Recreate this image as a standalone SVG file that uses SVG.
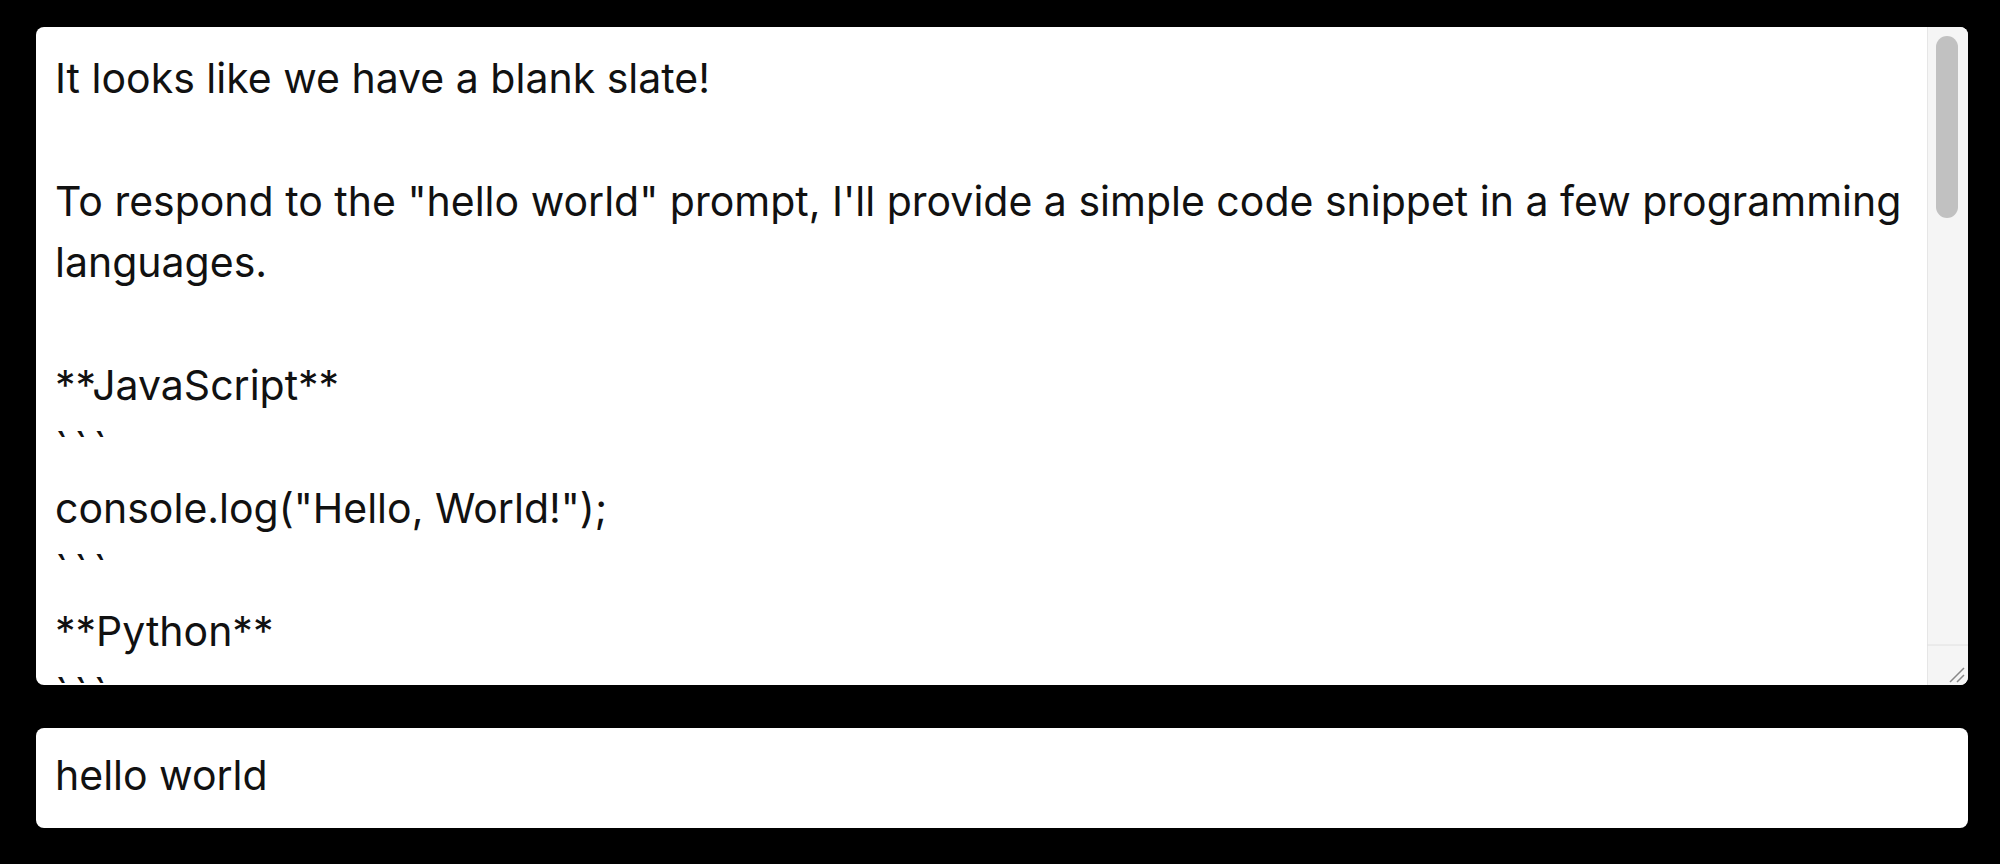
<svg xmlns="http://www.w3.org/2000/svg" width="2000" height="864" viewBox="0 0 2000 864">
<style>
.t{font-family:Inter,"Noto Sans","Liberation Sans",sans-serif;font-size:41px;fill:#111}
.b{letter-spacing:6px}
</style>
<defs><clipPath id="c"><rect x="36" y="27" width="1932" height="658" rx="8"/></clipPath></defs>
<rect width="2000" height="864" fill="#000"/>
<g id="output">
<rect x="36" y="27" width="1932" height="658" rx="8" fill="#fff"/>
<g clip-path="url(#c)">
<text class="t" x="55" y="93">It looks like we have a blank slate!</text>
<text class="t" x="55" y="216">To respond to the "hello world" prompt, I'll provide a simple code snippet in a few programming</text>
<text class="t" x="55" y="277">languages.</text>
<text class="t" x="55" y="400">**JavaScript**</text>
<text class="t b" x="55" y="462">```</text>
<text class="t" x="55" y="523">console.log("Hello, World!");</text>
<text class="t b" x="55" y="585">```</text>
<text class="t" x="55" y="646">**Python**</text>
<text class="t b" x="55" y="708">```</text>
<rect x="1927" y="27" width="41" height="658" fill="#f5f5f5"/>
<line x1="1927.5" y1="27" x2="1927.5" y2="685" stroke="#e6e6e6"/>
<rect x="1936" y="36" width="22" height="182" rx="11" fill="#c1c1c1"/>
<line x1="1927" y1="645" x2="1968" y2="645" stroke="#e0e0e0"/>
<path d="M1950 682 L1964 668 M1957 682 L1964 675" stroke="#888" stroke-width="1.5"/>
</g>
</g>
<g id="input">
<rect x="36" y="728" width="1932" height="100" rx="8" fill="#fff"/>
<text class="t" x="55" y="790">hello world</text>
</g>
</svg>
